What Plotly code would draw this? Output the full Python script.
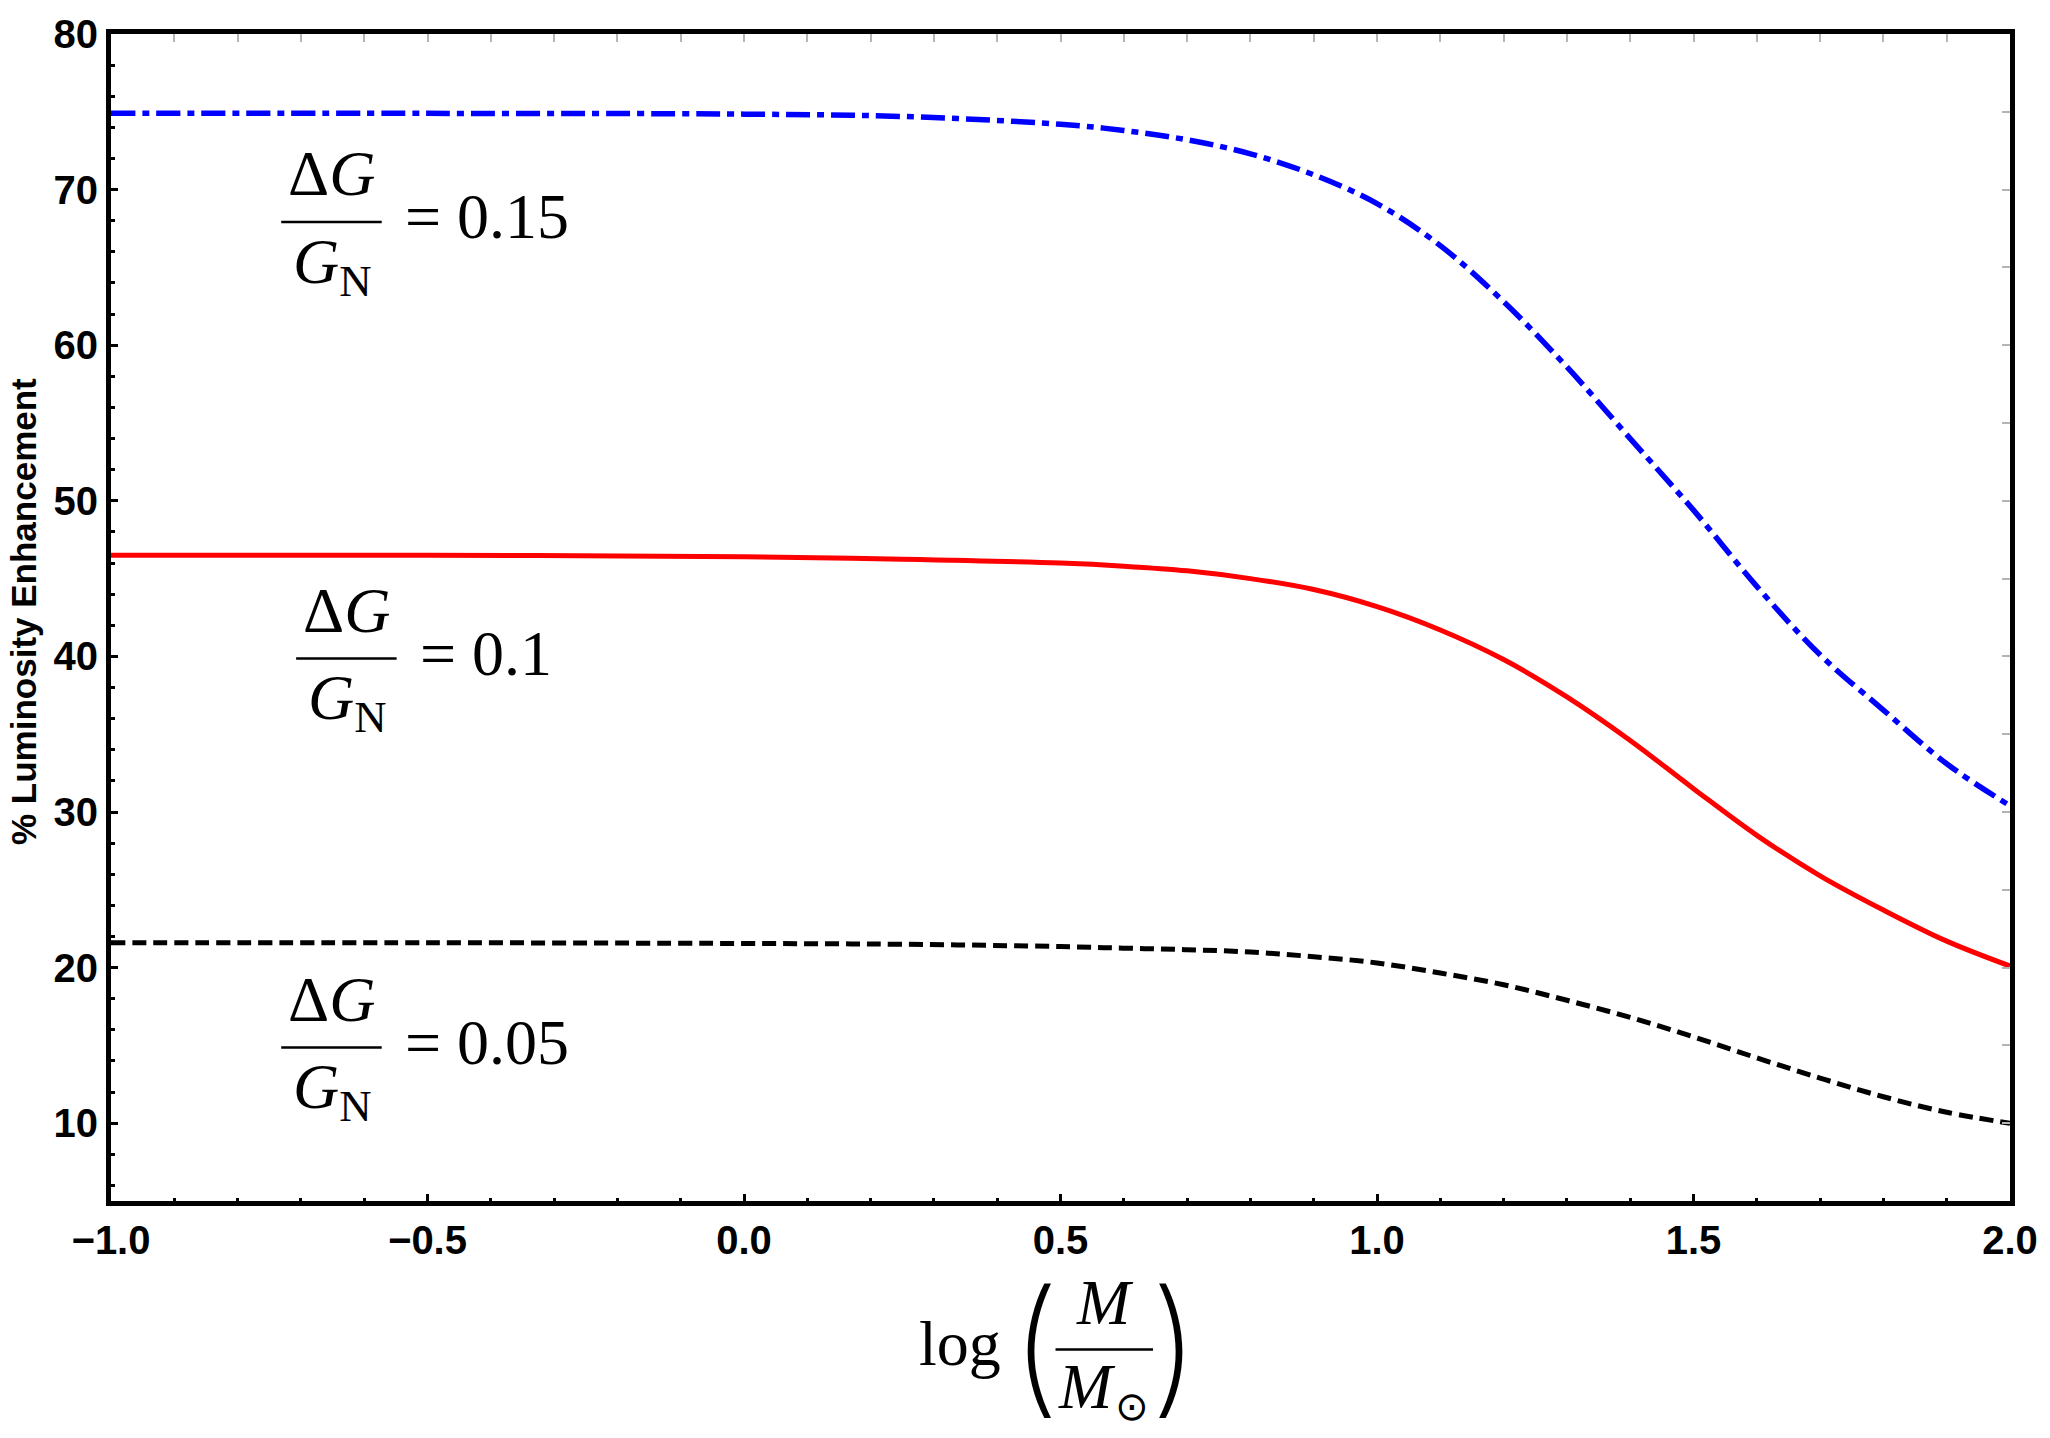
import plotly.graph_objects as go

# ---------------- data ----------------
log_mass = [-1.0, -0.5, 0.0, 0.25, 0.5, 0.6, 0.7, 0.8, 0.9, 1.0,
            1.1, 1.2, 1.3, 1.4, 1.5, 1.6, 1.7, 1.8, 1.9, 2.0]
enh_015 = [74.9, 74.9, 74.85, 74.7, 74.2, 73.8, 73.2, 72.3, 70.95, 69.1,
           66.4, 62.8, 58.6, 54.0, 49.4, 44.5, 40.1, 36.55, 33.1, 30.4]
enh_010 = [46.5, 46.5, 46.4, 46.25, 46.0, 45.8, 45.5, 45.0, 44.3, 43.2,
           41.7, 39.8, 37.4, 34.6, 31.5, 28.5, 25.9, 23.7, 21.7, 20.1]
enh_005 = [21.6, 21.6, 21.55, 21.5, 21.35, 21.25, 21.15, 21.0, 20.7, 20.3,
           19.65, 18.9, 17.9, 16.8, 15.55, 14.2, 12.9, 11.7, 10.7, 10.0]
label_values = ["0.15", "0.1", "0.05"]
x_range = [-1.0, 2.0]
y_range = [5, 80]

# ---------------- layout geometry ----------------
W, H = 2050, 1438
L, R, T, B = 111, 2019, 22, 1201
PW, PH = R - L, B - T


def px(x):
    return (x - L) / PW


def py(y):
    return (B - y) / PH


SERIF = "Liberation Serif, Times New Roman, serif"
SANS = "Liberation Sans, Arial, sans-serif"
MATH = 64

fig = go.Figure()
fig.add_trace(go.Scatter(x=log_mass, y=enh_015, mode="lines", line_shape="spline",
                         line=dict(color="#0000ff", width=5.5, dash="24px,7px,7px,7px"),
                         name="0.15", showlegend=False))
fig.add_trace(go.Scatter(x=log_mass, y=enh_010, mode="lines", line_shape="spline",
                         line=dict(color="#ff0000", width=5),
                         name="0.1", showlegend=False))
fig.add_trace(go.Scatter(x=log_mass, y=enh_005, mode="lines", line_shape="spline",
                         line=dict(color="#000000", width=5, dash="14px,7px"),
                         name="0.05", showlegend=False))
# empty trace so the mirrored (gray-tick) axes are drawn
fig.add_trace(go.Scatter(x=[], y=[], xaxis="x2", yaxis="y2", showlegend=False,
                         hoverinfo="skip"))

annotations = []
shapes = []


def ann(text, x, y, size, xanchor="center", family=SERIF, weight="normal", **kw):
    annotations.append(dict(text=text, x=px(x), y=py(y), xref="paper", yref="paper",
                            showarrow=False, xanchor=xanchor, yanchor="middle",
                            font=dict(family=family, size=size, color="black",
                                      weight=weight), **kw))


def hline(x0, x1, y, w=2.5):
    shapes.append(dict(type="line", xref="paper", yref="paper",
                       x0=px(x0), x1=px(x1), y0=py(y), y1=py(y),
                       line=dict(color="black", width=w)))


# curve labels:  ΔG / G_N = value   (bar centre x, bar y)
label_pos = [(332.5, 212), (347.5, 653), (332.5, 1046)]
for val, (xc, yb) in zip(label_values, label_pos):
    ann("Δ<i>G</i>", xc, yb - 48.6, MATH)
    hline(xc - 50.5, xc + 50.5, yb)
    ann("<i>G</i><sub>N</sub>", xc + 1, yb + 44, MATH)
    ann("= " + val, xc + 50.5 + 21, yb - 5.6, MATH, xanchor="left")

# x-axis title: log( M / M_sun )
PAREN = "Inter, Liberation Serif, serif"
ann("log", 964.5, 1345.4, MATH)
ann("(", 1040, 1346, 148, family=PAREN, weight=200)
ann(")", 1180, 1346, 148, family=PAREN, weight=200)
ann("<i>M</i>", 1110, 1303.4, MATH)
hline(1060, 1158, 1351)
ann("<i>M</i>", 1092, 1388.4, MATH)
ann("⊙", 1137, 1408, 40, family="DejaVu Sans, sans-serif")

# y-axis title
annotations.append(dict(text="<b>% Luminosity Enhancement</b>", x=px(22.5), y=py(605),
                        xref="paper", yref="paper", showarrow=False, textangle=-90,
                        xanchor="center", yanchor="middle",
                        font=dict(family=SANS, size=35, color="black")))

tickfont = dict(family=SANS, size=40, color="black", weight="bold")

fig.update_layout(
    width=W, height=H,
    margin=dict(l=L, r=W - R, t=T, b=H - B, pad=0),
    paper_bgcolor="white", plot_bgcolor="white",
    showlegend=False,
    annotations=annotations, shapes=shapes,
    xaxis=dict(range=x_range, showgrid=False, zeroline=False,
               showline=True, linewidth=5, linecolor="black", mirror=True,
               ticks="inside", ticklen=7, tickwidth=3, tickcolor="black",
               tickmode="linear", tick0=-1, dtick=0.5, tickformat=".1f",
               tickfont=tickfont,
               minor=dict(ticks="inside", ticklen=3.5, tickwidth=3, tickcolor="black",
                          tickmode="linear", tick0=-1, dtick=0.1, showgrid=False)),
    yaxis=dict(range=y_range, showgrid=False, zeroline=False,
               showline=True, linewidth=5, linecolor="black", mirror=True,
               ticks="inside", ticklen=7, tickwidth=3, tickcolor="black",
               tickmode="linear", tick0=0, dtick=10,
               tickfont=tickfont,
               minor=dict(ticks="inside", ticklen=3.5, tickwidth=3, tickcolor="black",
                          tickmode="linear", tick0=0, dtick=2, showgrid=False)),
    xaxis2=dict(range=x_range, overlaying="x", side="top", anchor="y2",
                showgrid=False, zeroline=False, showline=False, showticklabels=False,
                ticks="inside", ticklen=8, tickwidth=1.5, tickcolor="#b4b4b4",
                tickmode="linear", tick0=-1, dtick=0.1),
    yaxis2=dict(range=y_range, overlaying="y", side="right", anchor="x2",
                showgrid=False, zeroline=False, showline=False, showticklabels=False,
                ticks="inside", ticklen=8, tickwidth=1.5, tickcolor="#b4b4b4",
                tickmode="linear", tick0=0, dtick=5),
)

fig.write_html("out.html")
